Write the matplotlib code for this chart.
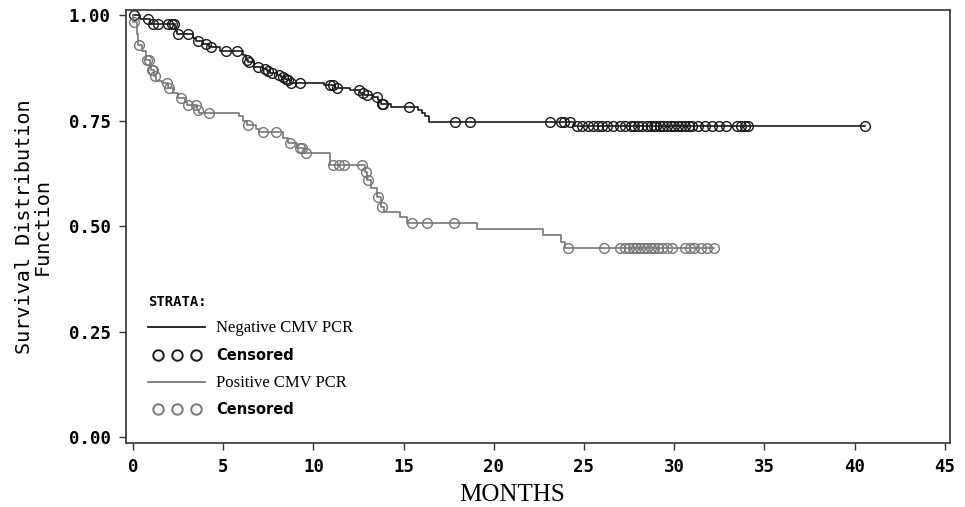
import matplotlib

matplotlib.use("Agg")
import matplotlib.pyplot as plt
import numpy as np
from matplotlib.legend_handler import HandlerLine2D
from matplotlib.lines import Line2D

# Negative CMV PCR: event times (months) and survival right after each event
NEG_T = [0.4, 0.95, 2.3, 2.4, 2.45, 3.3, 3.5, 3.9, 4.2, 4.8, 6.1, 6.25, 6.35,
         6.7, 7.2, 7.4, 7.6, 8.0, 8.2, 8.4, 8.55, 8.7, 10.6, 11.2, 12.0, 12.6,
         12.8, 13.3, 13.6, 13.75, 14.3, 15.8, 16.0, 16.2, 16.4, 24.45]
NEG_S = [0.990, 0.980, 0.970, 0.962, 0.955, 0.947, 0.940, 0.932, 0.925, 0.915,
         0.905, 0.895, 0.888, 0.878, 0.872, 0.867, 0.862, 0.858, 0.854, 0.850,
         0.846, 0.840, 0.834, 0.828, 0.822, 0.816, 0.812, 0.806, 0.800, 0.790,
         0.782, 0.775, 0.768, 0.760, 0.746, 0.738]
NEG_C = [0.05, 0.85, 1.1, 1.4, 1.95, 2.15, 2.26, 2.5, 3.05, 3.6, 4.05, 4.3,
         5.15, 5.75, 6.3, 6.4, 6.9, 7.3, 7.5, 7.7, 8.1, 8.3, 8.5, 8.6, 8.75,
         9.25, 10.9, 11.1, 11.3, 12.5, 12.75, 12.95, 13.5, 13.8, 13.85, 15.3,
         17.85, 18.7, 23.1, 23.7, 23.9, 24.2,
         24.6, 24.9, 25.2, 25.5, 25.8, 26.0, 26.3, 26.6, 27.0, 27.3, 27.6, 27.8,
         28.0, 28.2, 28.5, 28.7, 28.9, 29.0, 29.2, 29.4, 29.6, 29.8, 30.0, 30.2,
         30.4, 30.6, 30.8, 31.0, 31.3, 31.7, 32.1, 32.5, 32.9, 33.5, 33.7, 33.9,
         34.1, 40.6]

# Positive CMV PCR
POS_T = [0.02, 0.2, 0.3, 0.5, 0.7, 0.95, 1.0, 1.15, 1.25, 1.6, 1.93, 2.2, 2.5,
         2.9, 3.0, 3.55, 3.65, 5.9, 6.1, 6.3, 6.8, 7.0, 8.3, 8.6, 9.1, 9.5,
         10.9, 12.85, 12.95, 13.2, 13.5, 13.75, 13.9, 14.8, 15.2, 19.05, 22.7,
         23.7, 23.95]
POS_S = [0.985, 0.955, 0.930, 0.915, 0.893, 0.880, 0.870, 0.855, 0.845, 0.840,
         0.827, 0.815, 0.803, 0.795, 0.787, 0.776, 0.768, 0.760, 0.750, 0.740,
         0.730, 0.723, 0.710, 0.697, 0.685, 0.673, 0.645, 0.628, 0.609, 0.590,
         0.569, 0.545, 0.533, 0.521, 0.507, 0.493, 0.479, 0.462, 0.448]
POS_C = [0.05, 0.35, 0.8, 0.9, 1.05, 1.1, 1.2, 1.9, 1.97, 2.65, 3.05, 3.5, 3.6,
         4.2, 6.35, 7.2, 7.9, 8.7, 9.25, 9.35, 9.6, 11.1, 11.4, 11.7, 12.7,
         12.9, 13.0, 13.6, 13.8, 15.45, 16.3, 17.8, 24.1, 26.1,
         27.0, 27.3, 27.5, 27.7, 27.9, 28.1, 28.3, 28.5, 28.7, 28.9, 29.1, 29.3,
         29.6, 29.9, 30.6, 30.9, 31.1, 31.5, 31.8, 32.2]

X_TICKS = [0, 5, 10, 15, 20, 25, 30, 35, 40, 45]
Y_TICKS = [0.0, 0.25, 0.5, 0.75, 1.0]
Y_LABELS = ["0.00", "0.25", "0.50", "0.75", "1.00"]

BLACK = "#1a1a1a"
GREY = "#777777"
MONO = "DejaVu Sans Mono"


def km_step(times, surv, t_end):
    xs = np.concatenate([[0.0], np.repeat(times, 2), [t_end]])
    ys = np.concatenate([np.repeat(np.concatenate([[1.0], surv]), 2)])
    return xs, ys


def surv_at(times, surv, t):
    idx = np.searchsorted(times, t, side="right")
    return np.concatenate([[1.0], surv])[idx]


def main():
    fig = plt.figure(figsize=(9.65, 5.07), dpi=100)
    ax = fig.add_axes([0.1306, 0.126, 0.854, 0.854])

    for t, s, c, col in [(NEG_T, NEG_S, NEG_C, BLACK),
                         (POS_T, POS_S, POS_C, GREY)]:
        t, s, c = np.array(t), np.array(s), np.array(c)
        xs, ys = km_step(t, s, max(c.max(), t.max()))
        ax.plot(xs, ys, color=col, lw=1.2)
        ax.plot(c, surv_at(t, s, c), ls="none", marker="o", ms=7,
                mfc="none", mec=col, mew=1.0)

    ax.set_xlim(-0.39, 45.3)
    ax.set_ylim(-0.014, 1.012)
    ax.set_xticks(X_TICKS)
    ax.set_xticklabels([str(v) for v in X_TICKS], family=MONO,
                       fontweight="bold", fontsize=12.5)
    ax.set_yticks(Y_TICKS)
    ax.set_yticklabels(Y_LABELS, family=MONO, fontweight="bold", fontsize=12.5)
    ax.tick_params(direction="out", length=5, width=1, color="#333333",
                   pad=6)
    for sp in ax.spines.values():
        sp.set_color("#333333")
        sp.set_linewidth(1.2)

    ax.set_xlabel("MONTHS", family="Liberation Serif", fontsize=18)
    ax.xaxis.set_label_coords(0.468, -0.095)
    ax.set_ylabel("Survival Distribution\nFunction", family=MONO,
                  fontsize=14.5, labelpad=12, linespacing=0.95)

    handles = [
        Line2D([], [], color=BLACK, lw=1.3),
        Line2D([], [], ls="none", marker="o", ms=7.5, mfc="none", mec=BLACK,
               mew=1.4),
        Line2D([], [], color=GREY, lw=1.3),
        Line2D([], [], ls="none", marker="o", ms=7.5, mfc="none", mec=GREY,
               mew=1.4),
    ]
    labels = ["Negative CMV PCR", "Censored", "Positive CMV PCR", "Censored"]
    hmap = {handles[1]: HandlerLine2D(marker_pad=0.65, numpoints=3),
            handles[3]: HandlerLine2D(marker_pad=0.65, numpoints=3)}
    leg = ax.legend(handles, labels, title="STRATA:", loc="upper left",
                    bbox_to_anchor=(0.011, 0.373), frameon=False,
                    handlelength=3.9, labelspacing=0.8, handletextpad=0.75,
                    alignment="left", fontsize=10.5, handler_map=hmap)
    leg.get_title().set_fontfamily(MONO)
    leg.get_title().set_fontweight("bold")
    leg.get_title().set_fontsize(10)
    for i, txt in enumerate(leg.get_texts()):
        if i % 2 == 0:
            txt.set_fontfamily("Liberation Serif")
            txt.set_fontsize(12)
        else:
            txt.set_fontfamily("DejaVu Sans")
            txt.set_fontweight("bold")
            txt.set_fontsize(10.5)

    fig.savefig("out.png", dpi=100, facecolor="white")
    plt.close(fig)


if __name__ == "__main__":
    main()
